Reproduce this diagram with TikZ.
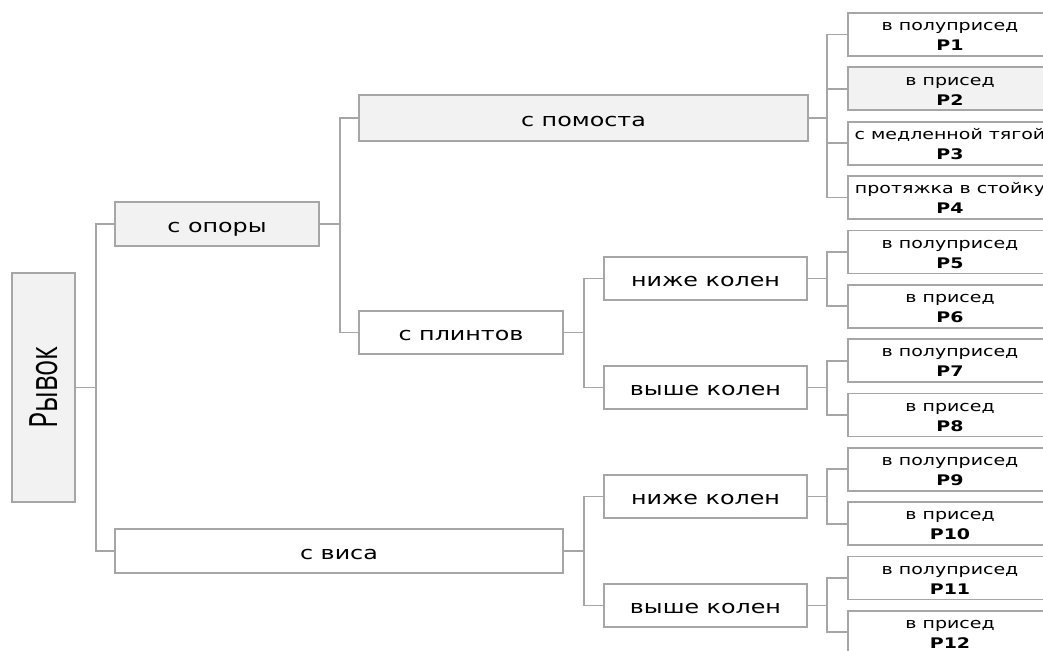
\documentclass[tikz,border=0pt]{standalone}
\usepackage{fontspec}
\setmainfont{DejaVu Sans}
\newfontfamily\titlefont{Open Sans}
\usepackage{graphicx}
\definecolor{SchemeLine}{RGB}{166,166,166}
\definecolor{SchemeFill}{RGB}{242,242,242}
\newcommand{\wtext}[1]{\scalebox{1.3}[1]{#1}}
\newcommand{\leaftext}[2]{\scalebox{1.3}[1]{\begin{tabular}[t]{@{}c@{}}#1\\\textbf{#2}\end{tabular}}}

\begin{document}
\begin{tikzpicture}[x=1pt,y=-1pt,box/.style n args={3}{draw=SchemeLine,line width=1.8pt,fill=#1,minimum width=#2pt,minimum height=#3pt,inner sep=0pt,rectangle,text height=16pt,text depth=0pt,font=\fontsize{18.3}{22}\selectfont},leaf/.style={box={#1}{204}{43},text height=10pt,text depth=17.6pt,font=\fontsize{14.6}{20}\selectfont},link/.style={draw=SchemeLine,line width=1.8pt}]
    \useasboundingbox (0,0) rectangle (1043,650);
    \clip (0,0) rectangle (1043,650);
    \node[box={SchemeFill}{63}{229},text height=,text depth=](ryvok) at(43.5,387.5) {\rotatebox{90}{\titlefont\fontsize{39}{39}\selectfont\scalebox{0.69}[1]{Рывок}}};
    \node[box={SchemeFill}{204}{44}](opory) at(217,224) {\wtext{с опоры}};
    \node[box={white}{448}{44}](vis) at(339,551) {\wtext{с виса}};
    \node[box={SchemeFill}{449}{46}](pomost) at(583.5,118) {\wtext{с помоста}};
    \node[box={white}{204}{43}](plint) at(461,332.5) {\wtext{с плинтов}};
    \node[box={white}{203}{43}](nizhe1) at(705.5,278.5) {\wtext{ниже колен}};
    \node[box={white}{203}{43}](vyshe1) at(705.5,387.5) {\wtext{выше колен}};
    \node[box={white}{203}{43}](nizhe2) at(705.5,496.5) {\wtext{ниже колен}};
    \node[box={white}{203}{43}](vyshe2) at(705.5,605.5) {\wtext{выше колен}};
    \foreach \i/\txt/\clr in %
    {1/в полуприсед/white,2/в присед/SchemeFill,3/с медленной тягой/white,4/протяжка в стойку/white,
     5/в полуприсед/white,6/в присед/white,7/в полуприсед/white,8/в присед/white,
     9/в полуприсед/white,10/в присед/white,11/в полуприсед/white,12/в присед/white} {
       \node[leaf=\clr](p\i) at(950,{34.5+54.35*(\i-1)}) {\leaftext{\txt}{P\i}};
    }
    \foreach \a/\b in {ryvok/opory,ryvok/vis,opory/pomost,opory/plint,plint/nizhe1,plint/vyshe1,vis/nizhe2,vis/vyshe2} {
       \draw[link] (\a.east) -- ++(20,0) |- (\b.west);
    }
    \foreach \a/\b in {pomost/1,pomost/2,pomost/3,pomost/4,nizhe1/5,nizhe1/6,vyshe1/7,vyshe1/8,nizhe2/9,nizhe2/10,vyshe2/11,vyshe2/12} {
       \draw[link] (p\b.west) -- ++(-20,0) |- (\a.east);
    }
\end{tikzpicture}
\end{document}
